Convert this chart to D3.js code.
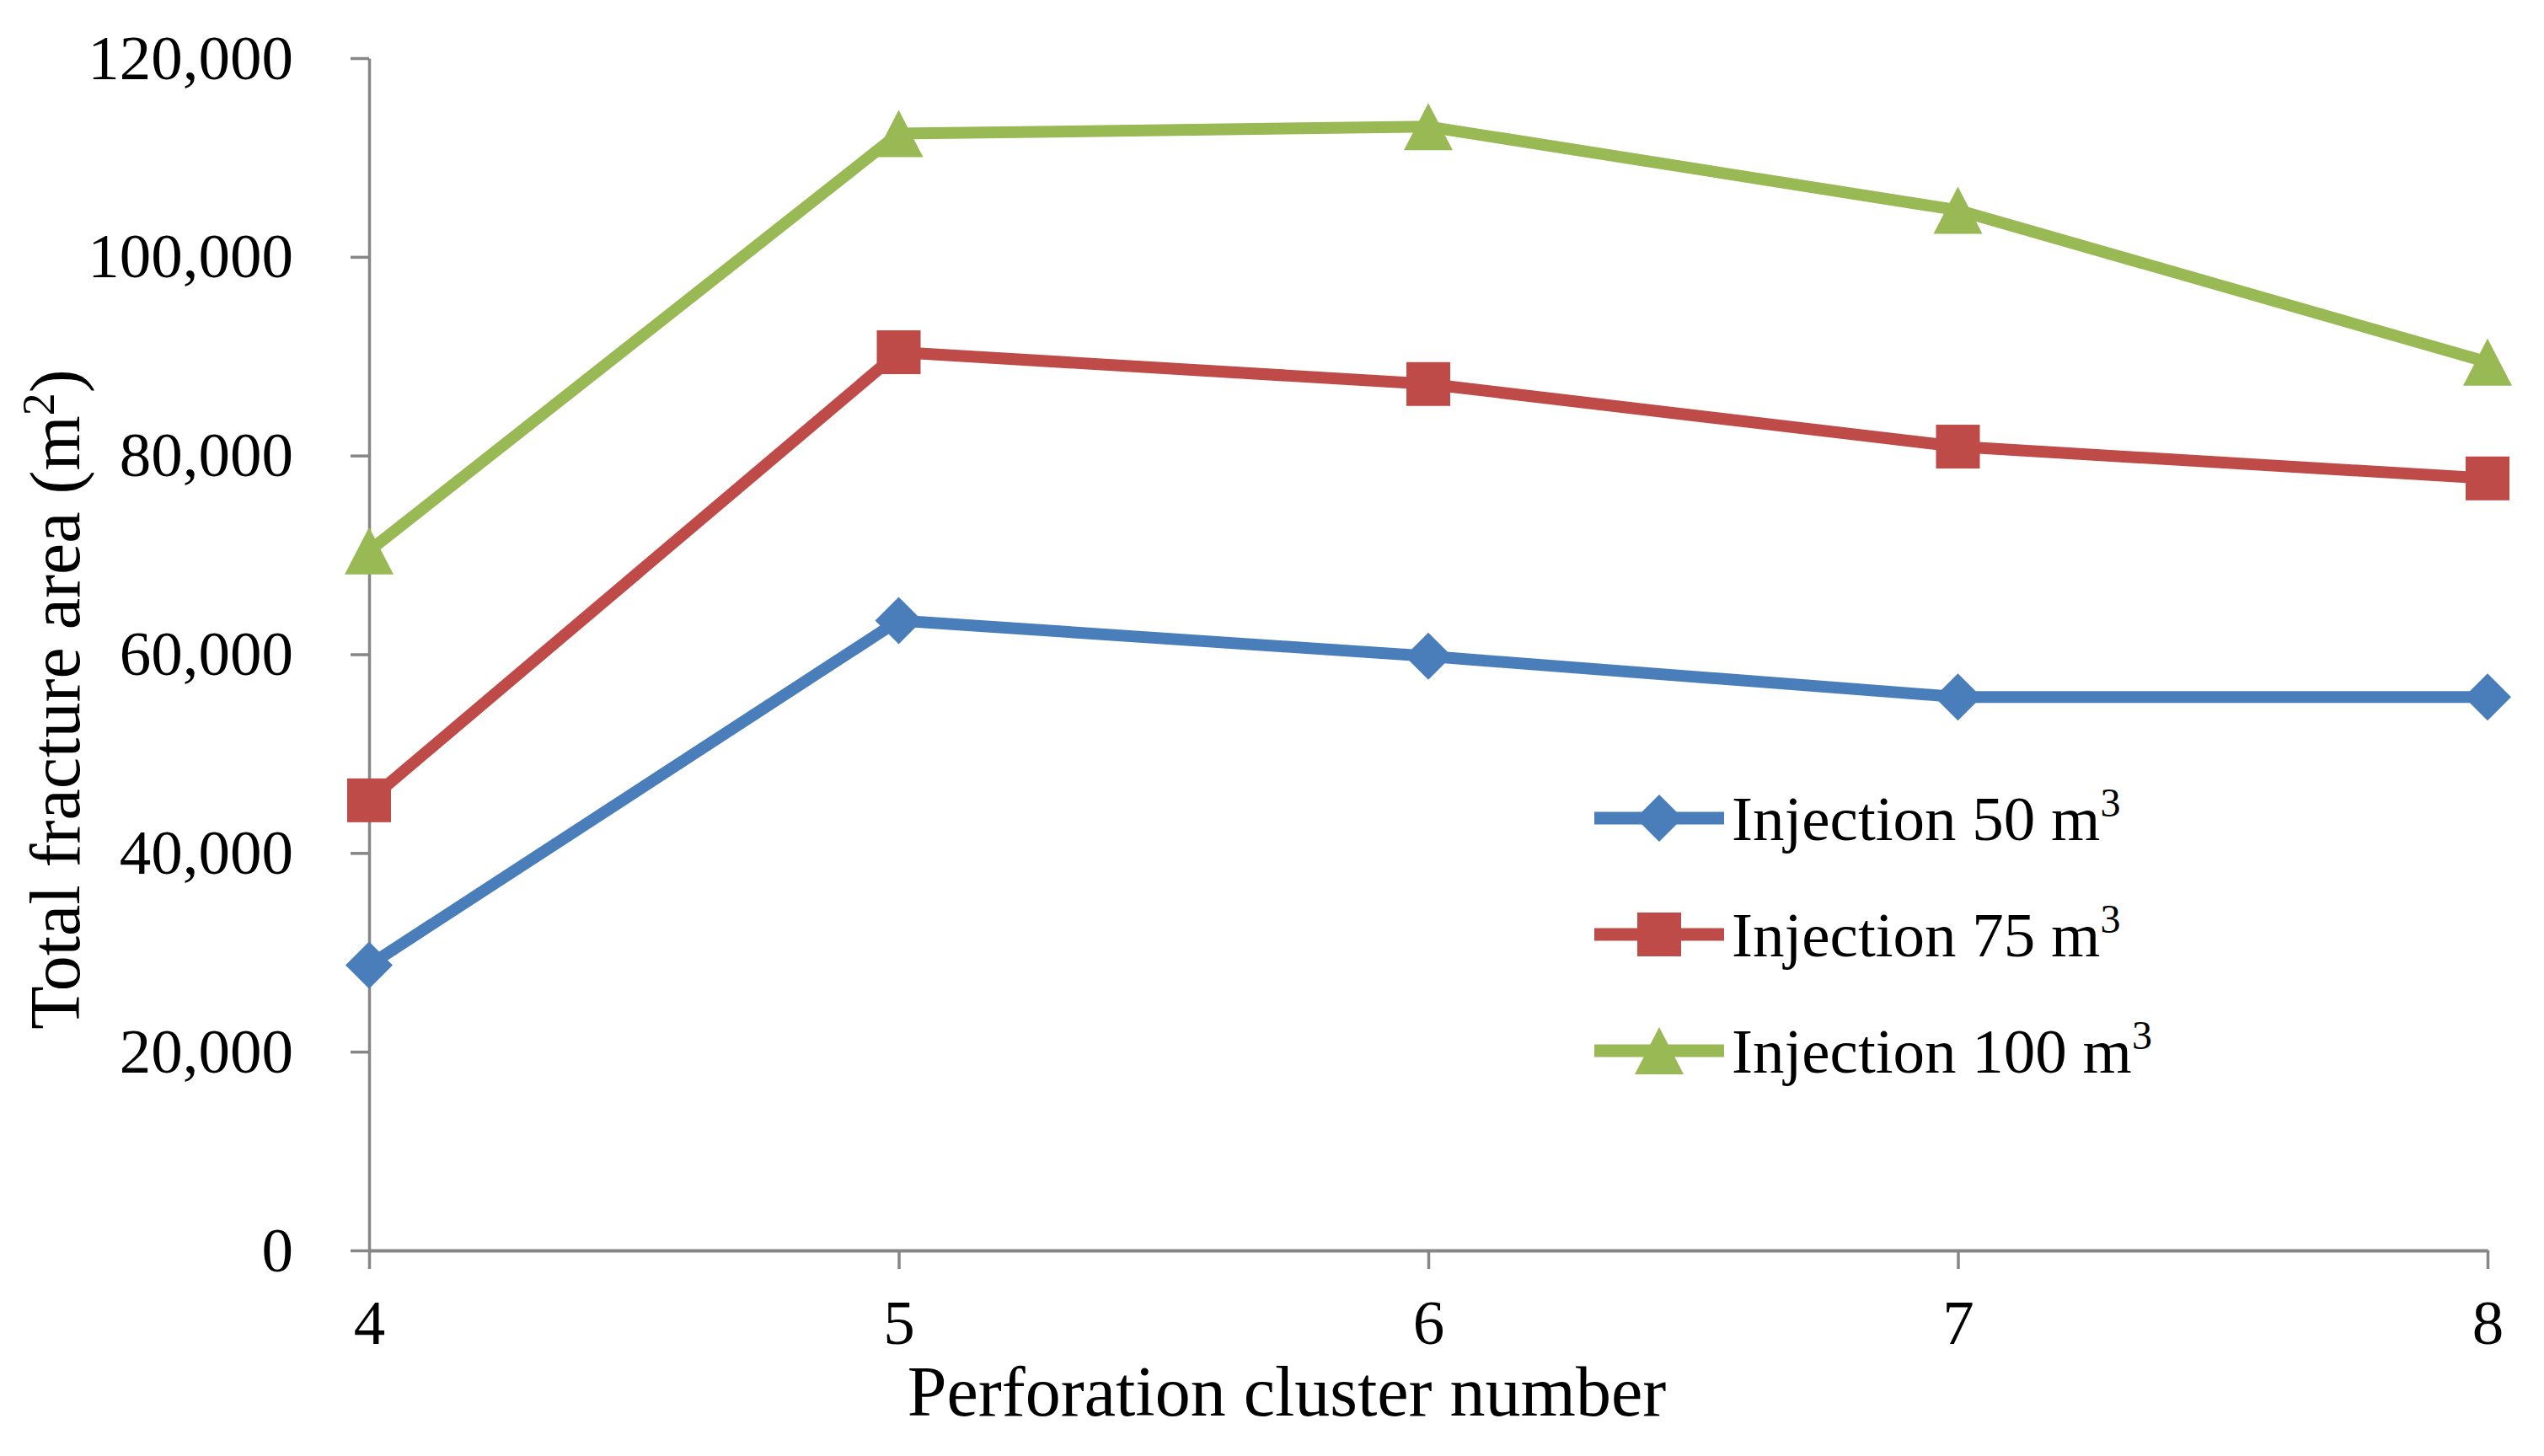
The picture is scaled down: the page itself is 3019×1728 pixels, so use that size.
<!DOCTYPE html>
<html>
<head>
<meta charset="utf-8">
<script src="https://cdn.jsdelivr.net/npm/d3@7"></script>
<style>
  html, body { margin: 0; padding: 0; background: #fff; }
  svg { display: block; font-family: "Liberation Serif", "Times New Roman", serif; }
</style>
</head>
<body>
<script>
const clusters = [4, 5, 6, 7, 8];
const injection50 = [28700, 63400, 59800, 55700, 55700];
const injection75 = [45300, 90400, 87200, 80900, 77700];
const injection100 = [70400, 112400, 113100, 104700, 89400];
const yTicks = [0, 20000, 40000, 60000, 80000, 100000, 120000];
const seriesNames = ['Injection 50 m', 'Injection 75 m', 'Injection 100 m'];

(() => {
  let width = 3019;
  let height = 1728;
  let svg;
  let x;
  let y;
  let series;
  let line;
  let drawMarker;
  let legend;

  series = [
    { name: seriesNames[0], values: injection50, color: '#4A7EBB', shape: 'diamond' },
    { name: seriesNames[1], values: injection75, color: '#BE4B48', shape: 'square' },
    { name: seriesNames[2], values: injection100, color: '#98B954', shape: 'triangle' }
  ];

  svg = d3.select('body').append('svg')
    .attr('width', width)
    .attr('height', height);

  x = d3.scaleLinear().domain([4, 8]).range([438, 2952]);
  y = d3.scaleLinear().domain([0, 120000]).range([1484, 69]);

  svg.append('g')
    .attr('transform', 'translate(438,0)')
    .call(d3.axisLeft(y).tickValues(yTicks).tickFormat(d3.format(',')).tickSize(22).tickSizeOuter(0).tickPadding(68))
    .call(g => {
      g.select('.domain').attr('stroke', '#868686').attr('stroke-width', 3.5);
      g.selectAll('.tick line').attr('stroke', '#868686').attr('stroke-width', 3.5);
      g.selectAll('.tick text')
        .attr('fill', '#000')
        .attr('font-size', 75)
        .attr('font-family', '"Liberation Serif", serif');
    });

  svg.append('g')
    .attr('transform', 'translate(0,1484)')
    .call(d3.axisBottom(x).tickValues(clusters).tickFormat(d3.format('d')).tickSize(22).tickSizeOuter(0).tickPadding(36))
    .call(g => {
      g.select('.domain').attr('stroke', '#868686').attr('stroke-width', 4);
      g.selectAll('.tick line').attr('stroke', '#868686').attr('stroke-width', 3.5);
      g.selectAll('.tick text')
        .attr('fill', '#000')
        .attr('font-size', 75)
        .attr('font-family', '"Liberation Serif", serif');
    });

  svg.append('text')
    .attr('x', 1527)
    .attr('y', 1680)
    .attr('text-anchor', 'middle')
    .attr('font-size', 84)
    .text('Perforation cluster number');

  svg.append('text')
    .attr('transform', 'translate(94,830) rotate(-90)')
    .attr('text-anchor', 'middle')
    .attr('font-size', 84)
    .call(t => {
      t.append('tspan').text('Total fracture area (m');
      t.append('tspan').attr('font-size', 54).attr('dy', -30).text('2');
      t.append('tspan').attr('dy', 30).text(')');
    });

  drawMarker = (g, shape, color, cx, cy) => {
    if (shape === 'diamond') {
      g.append('path')
        .attr('d', `M${cx},${cy - 28}L${cx + 28},${cy}L${cx},${cy + 28}L${cx - 28},${cy}Z`)
        .attr('fill', color);
    } else if (shape === 'square') {
      g.append('rect')
        .attr('x', cx - 26).attr('y', cy - 26)
        .attr('width', 52).attr('height', 52)
        .attr('fill', color);
    } else {
      g.append('path')
        .attr('d', `M${cx},${cy - 28}L${cx + 29},${cy + 28}L${cx - 29},${cy + 28}Z`)
        .attr('fill', color);
    }
  };

  line = d3.line()
    .x((d, i) => x(clusters[i]))
    .y(d => y(d));

  series.forEach(s => {
    let g;
    g = svg.append('g');
    g.append('path')
      .attr('d', line(s.values))
      .attr('fill', 'none')
      .attr('stroke', s.color)
      .attr('stroke-width', 14)
      .attr('stroke-linejoin', 'round');
    s.values.forEach((v, i) => drawMarker(g, s.shape, s.color, x(clusters[i]), y(v)));
  });

  legend = svg.append('g');
  series.forEach((s, i) => {
    let cy;
    let t;
    cy = 971 + i * 138;
    legend.append('line')
      .attr('x1', 1892).attr('x2', 2046)
      .attr('y1', cy).attr('y2', cy)
      .attr('stroke', s.color)
      .attr('stroke-width', 15);
    drawMarker(legend, s.shape, s.color, 1969, cy);
    t = legend.append('text')
      .attr('x', 2055)
      .attr('y', cy + 26)
      .attr('font-size', 75);
    t.append('tspan').text(s.name);
    t.append('tspan').attr('font-size', 48).attr('dy', -28).text('3');
  });
})();
</script>
</body>
</html>
